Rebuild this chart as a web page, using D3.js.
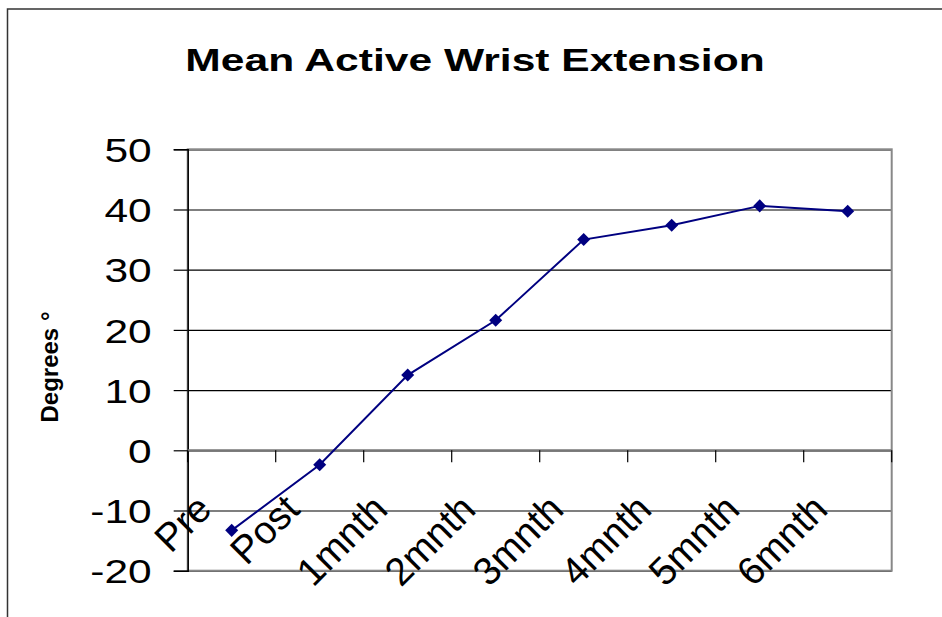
<!DOCTYPE html>
<html>
<head>
<meta charset="utf-8">
<script src="https://cdn.jsdelivr.net/npm/d3@7"></script>
<style>
  html, body { margin: 0; padding: 0; background: #fff; }
  svg { display: block; font-family: "Liberation Sans", Arial, sans-serif; }
</style>
</head>
<body>
<svg id="chart" width="942" height="617"></svg>
<script>
// Mean active wrist extension over the follow-up period
const categories = ["Pre", "Post", "1mnth", "2mnth", "3mnth", "4mnth", "5mnth", "6mnth"];
const meanExtension = [-13.3, -2.4, 12.5, 21.6, 35.0, 37.4, 40.6, 39.7];
const yTicks = [-20, -10, 0, 10, 20, 30, 40, 50];
const chartTitle = "Mean Active Wrist Extension";
const yTitle = "Degrees °";

const svg = d3.select("#chart");
const W = 942, H = 617;
const plot = { left: 187.7, right: 891.7, top: 149.3, bottom: 570.7 };
const tickStretch = 1.25;  // horizontal widening of the value labels
const titleStretch = 1.33; // horizontal widening of the chart title

// outer frame (only its top and left edges fall inside the view)
svg.append("rect")
  .attr("x", 7.5).attr("y", 9).attr("width", W + 20).attr("height", H + 20)
  .attr("fill", "none").attr("stroke", "#333").attr("stroke-width", 1.5);

const x = d3.scaleBand().domain(categories).range([plot.left, plot.right]).padding(0);
const y = d3.scaleLinear().domain([-20, 50]).range([plot.bottom, plot.top]);

// horizontal gridlines
svg.append("g")
  .attr("transform", `translate(${plot.left},0)`)
  .call(d3.axisLeft(y).tickValues(yTicks).tickSize(-(plot.right - plot.left)).tickFormat(""))
  .call(g => g.select(".domain").remove())
  .call(g => g.selectAll(".tick line").attr("stroke", "#000").attr("stroke-width", 1.2));

// plot area border
svg.append("rect")
  .attr("x", plot.left).attr("y", plot.top)
  .attr("width", plot.right - plot.left).attr("height", plot.bottom - plot.top)
  .attr("fill", "none").attr("stroke", "#888").attr("stroke-width", 2);

// value axis
const yAxis = svg.append("g")
  .attr("transform", `translate(${plot.left},0)`)
  .call(d3.axisLeft(y).tickValues(yTicks).tickSize(14).tickPadding(22).tickFormat(d => String(d)));
yAxis.select(".domain").attr("stroke", "#000").attr("stroke-width", 1.5);
yAxis.selectAll(".tick line").attr("stroke", "#000").attr("stroke-width", 1.2);
yAxis.selectAll(".tick text")
  .attr("x", -36 / tickStretch)
  .attr("transform", `scale(${tickStretch},1)`)
  .attr("font-size", 34).attr("fill", "#000")
  .attr("font-family", "'Liberation Sans', Arial, sans-serif")
  .attr("dy", "0.36em");

// category axis along the zero line
const y0 = y(0);
const catAxis = svg.append("g");
catAxis.append("line")
  .attr("x1", plot.left).attr("x2", plot.right).attr("y1", y0).attr("y2", y0)
  .attr("stroke", "#777").attr("stroke-width", 2);
const edges = categories.map(c => x(c)).concat([x.range()[1]]);
catAxis.selectAll("line.tick").data(edges).join("line")
  .attr("class", "tick")
  .attr("x1", d => d).attr("x2", d => d)
  .attr("y1", y0).attr("y2", y0 + 12)
  .attr("stroke", "#000").attr("stroke-width", 1.2);
catAxis.selectAll("text").data(categories).join("text")
  .attr("transform", d => `translate(${x(d) + x.bandwidth() / 2 - 18},${y0 + 61}) rotate(-45)`)
  .attr("text-anchor", "end")
  .attr("font-size", 39)
  .attr("fill", "#000")
  .text(d => d);

// series line and diamond markers
const line = d3.line()
  .x((d, i) => x(categories[i]) + x.bandwidth() / 2)
  .y(d => y(d));
svg.append("path")
  .datum(meanExtension)
  .attr("d", line)
  .attr("fill", "none").attr("stroke", "#000080").attr("stroke-width", 2);
svg.append("g").selectAll("path").data(meanExtension).join("path")
  .attr("d", d3.symbol(d3.symbolSquare, 85))
  .attr("transform", (d, i) => `translate(${x(categories[i]) + x.bandwidth() / 2},${y(d)}) rotate(45)`)
  .attr("fill", "#000080");

// titles
svg.append("text")
  .attr("transform", `translate(475,71) scale(${titleStretch},1)`)
  .attr("text-anchor", "middle")
  .attr("font-size", 32).attr("font-weight", "bold")
  .text(chartTitle);
svg.append("text")
  .attr("transform", `translate(58,367) rotate(-90)`)
  .attr("text-anchor", "middle")
  .attr("font-size", 24).attr("font-weight", "bold")
  .text(yTitle);
</script>
</body>
</html>
